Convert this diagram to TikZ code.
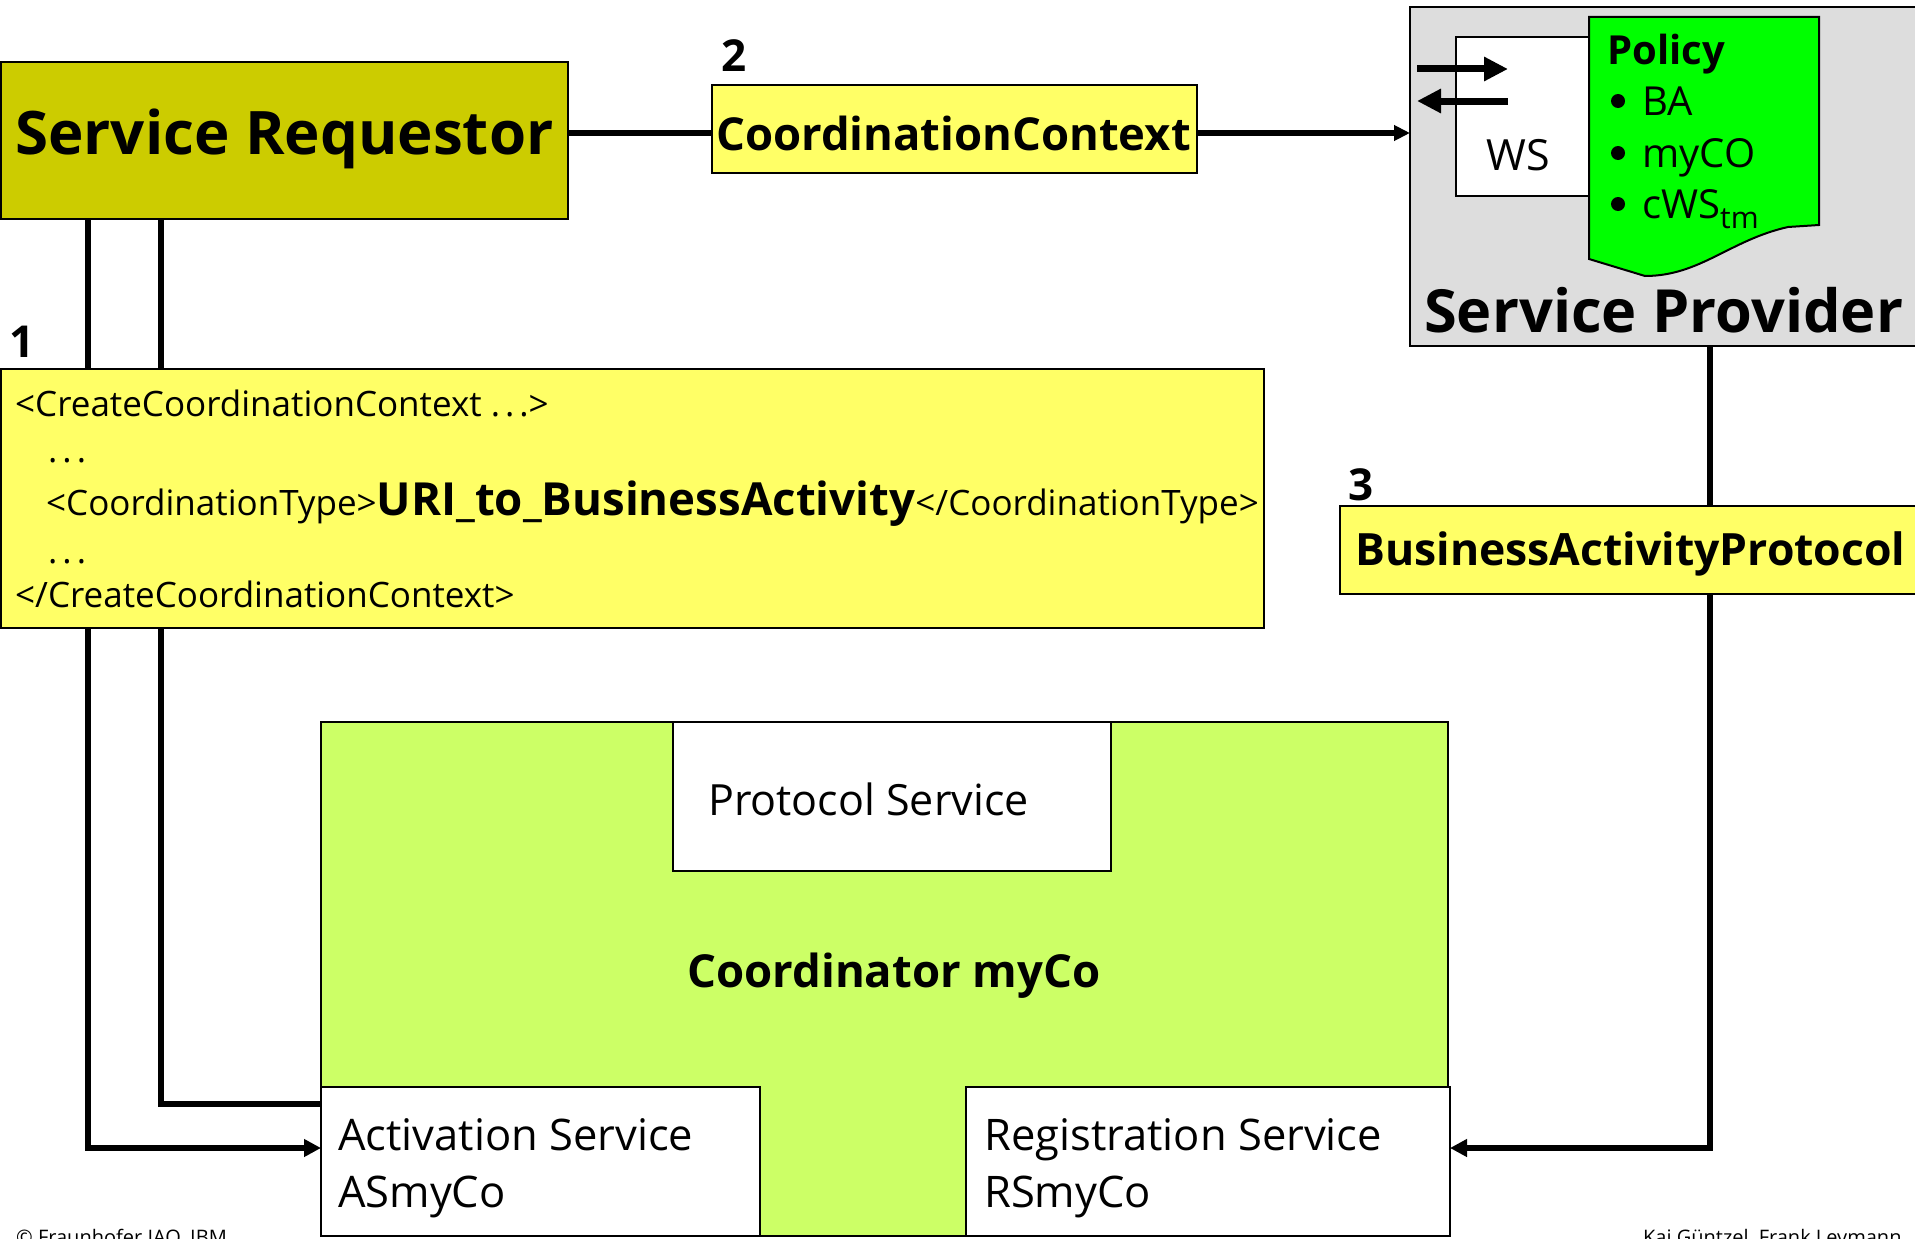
\documentclass[tikz,border=0pt]{standalone}
\usepackage{fontspec}
\setmainfont{Open Sans}
\usetikzlibrary{arrows.meta}
\definecolor{olive}{HTML}{CCCC00}
\definecolor{msgyellow}{HTML}{FFFF66}
\definecolor{provgray}{HTML}{DDDDDD}
\definecolor{policygreen}{HTML}{00FF00}
\definecolor{coordgreen}{HTML}{CCFF66}
\newcommand{\fs}[1]{\fontsize{#1}{#1}\selectfont}
\newcommand{\wdots}{.\hspace{5pt}.\hspace{5pt}.}
\begin{document}
\begin{tikzpicture}[x=1pt,y=-1pt,
  box/.style={draw=black, line width=2pt, inner sep=0pt, outer sep=0pt, anchor=north west},
  conn/.style={line width=5.5pt, line join=miter},
  tipr/.style={-{Triangle[length=17pt,width=17pt]}},
  lbl/.style={anchor=base west, inner sep=0pt},
  num/.style={lbl, font=\fs{44}\bfseries},
  dot/.style={circle, fill=black, inner sep=0pt, minimum size=14pt}]
\useasboundingbox (0,0) rectangle (1915,1239);
\clip (0,0) rectangle (1915,1239);

% service requestor and the context it sends
\node[box, fill=olive, minimum width=567pt, minimum height=157pt] (sr) at (1,62) {};
\node[lbl, font=\fs{60}\bfseries] (srt) at (15,154) {Service Requestor};
\node[box, fill=msgyellow, minimum width=485pt, minimum height=88pt] (cc) at (712,85) {};
\node[lbl, font=\fs{45.4}\bfseries] (cct) at (716,150) {CoordinationContext};
\node[num] (n2) at (721,72) {2};

% service provider with its web service and policy
\node[box, fill=provgray, minimum width=530pt, minimum height=339pt] (sp) at (1410,7) {};
\node[box, fill=white, minimum width=133pt, minimum height=159pt] (ws) at (1456,37) {};
\node[lbl, font=\fs{43}] (wst) at (1486,170) {WS};
\draw[line width=2pt, fill=policygreen]
  (1589,17) -- (1819,17) -- (1819,225) -- (1788,227)
  .. controls (1730,240) and (1700,276) .. (1645,276) -- (1589,259) -- cycle;
\node[lbl, font=\fs{40}\bfseries] (pol) at (1607,65) {Policy};
\node[dot] (d1) at (1618,101) {};
\node[dot] (d2) at (1618,153) {};
\node[dot] (d3) at (1618,204) {};
\node[lbl, font=\fs{40}] (p1) at (1642,115) {BA};
\node[lbl, font=\fs{40}] (p2) at (1642,167) {myCO};
\node[lbl, font=\fs{40}] (p3) at (1642,218) {cWS\raisebox{-10pt}{\fs{30}tm}};
\coordinate (wa) at (1417,69);
\coordinate (wb) at (1508,69);
\coordinate (wc) at (1508,101);
\coordinate (wd) at (1417,101);
\draw[line width=7pt, -{Triangle[length=24pt,width=23pt]}] (wa) -- (wb);
\draw[line width=7pt, -{Triangle[length=24pt,width=23pt]}] (wc) -- (wd);
\node[lbl, font=\fs{59.5}\bfseries] (spt) at (1424,332) {Service Provider};

% activation request
\node[num] (n1) at (9,357) {1};
\node[box, fill=msgyellow, minimum width=1263pt, minimum height=259pt] (xml) at (1,369) {};
\begin{scope}[font=\fs{35}]
\node[lbl] (x1) at (15,416) {<CreateCoordinationContext \wdots>};
\node[lbl] (x2) at (48,462) {\wdots};
\node[lbl] (x3) at (46,515) {<CoordinationType>{\fs{45.6}\bfseries URI\_to\_BusinessActivity}</CoordinationType>};
\node[lbl] (x4) at (48,563) {\wdots};
\node[lbl] (x5) at (15,607) {</CreateCoordinationContext>};
\end{scope}

% registration protocol
\node[num] (n3) at (1348,500) {3};
\node[box, fill=msgyellow, minimum width=590pt, minimum height=88pt] (bap) at (1340,506) {};
\node[lbl, font=\fs{44.5}\bfseries] (bapt) at (1355,565) {BusinessActivityProtocol};

% coordinator and its services
\node[box, fill=coordgreen, minimum width=1127pt, minimum height=514pt] (co) at (321,722) {};
\node[box, fill=white, minimum width=438pt, minimum height=149pt] (ps) at (673,722) {};
\node[lbl, font=\fs{43}] (pst) at (708,815) {Protocol Service};
\node[anchor=base, inner sep=0pt, font=\fs{45.5}\bfseries] (cot) at (894,987) {Coordinator myCo};
\node[box, fill=white, minimum width=439pt, minimum height=149pt] (as) at (321,1087) {};
\node[lbl, font=\fs{43.5}] (ast1) at (338,1150) {Activation Service};
\node[lbl, font=\fs{43.5}] (ast2) at (338,1207) {ASmyCo};
\node[box, fill=white, minimum width=484pt, minimum height=149pt] (rs) at (966,1087) {};
\node[lbl, font=\fs{43.5}] (rst1) at (984,1150) {Registration Service};
\node[lbl, font=\fs{43.5}] (rst2) at (984,1207) {RSmyCo};

% connectors
\coordinate (m2) at (0,133);
\coordinate (l1) at (88,0);
\coordinate (l2) at (161,0);
\coordinate (r1) at (1710,0);
\coordinate (a1) at (0,1148);
\coordinate (a2) at (0,1104);
\draw[conn] (sr.east |- m2) -- (cc.west |- m2);
\draw[conn, -{Triangle[length=16pt,width=15pt]}] (cc.east |- m2) -- (sp.west |- m2);
\draw[conn] (sr.south -| l1) -- (xml.north -| l1);
\draw[conn] (sr.south -| l2) -- (xml.north -| l2);
\draw[conn, tipr] (xml.south -| l1) |- (as.west |- a1);
\draw[conn] (xml.south -| l2) |- (as.west |- a2);
\draw[conn] (sp.south -| r1) -- (bap.north -| r1);
\draw[conn, tipr] (bap.south -| r1) |- (rs.east |- a1);

% footer
\node[lbl, font=\fs{20}] (f1) at (16,1244) {© Fraunhofer IAO, IBM};
\node[lbl, font=\fs{20}] (f2) at (1643,1244) {Kai Güntzel, Frank Leymann};
\end{tikzpicture}
\end{document}
